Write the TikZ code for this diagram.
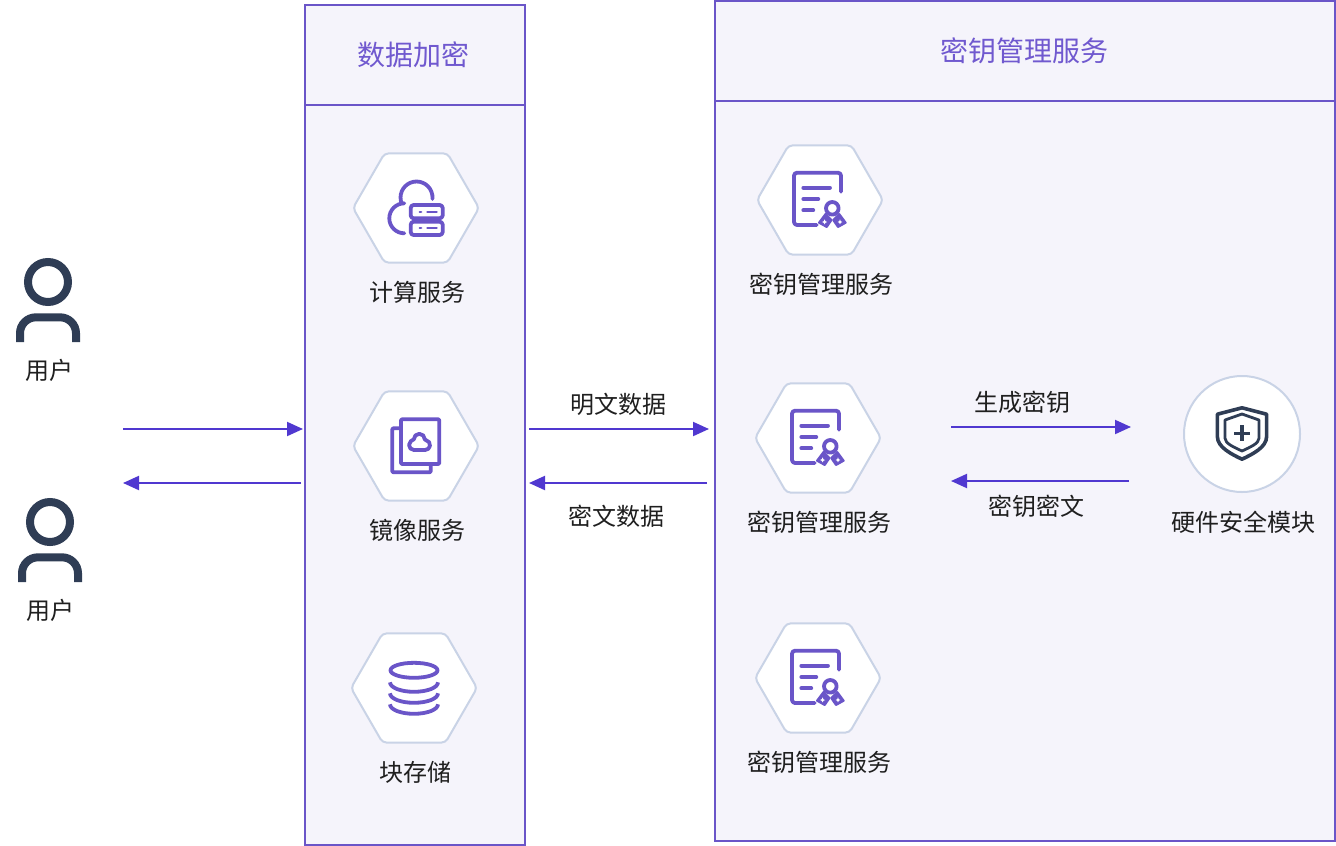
\documentclass[tikz,border=0pt]{standalone}
\usepackage{fontspec}
\setmainfont{Noto Sans CJK SC}
\usetikzlibrary{arrows.meta,shapes.geometric}
\definecolor{violeta}{HTML}{6A55C8}
\definecolor{titulo}{HTML}{7059CF}
\definecolor{fondo}{HTML}{F5F4FB}
\definecolor{borde}{HTML}{C9D3E6}
\definecolor{flecha}{HTML}{5038D0}
\definecolor{oscuro}{HTML}{2F3D55}
\definecolor{texto}{HTML}{1F1F1F}
\tikzset{
  cloudicon/.pic={
    \draw[icon] (-14.3,-4.5) arc[start angle=158,end angle=365,radius=16];
    \draw[icon] (-11.7,-4.7) arc[start angle=270,end angle=90,radius=15];
    \draw[icon,rounded corners=3] (-5.3,-3) rectangle (26.7,10.3);
    \draw[icon,rounded corners=3] (-5.3,13.7) rectangle (26.7,27);
    \draw[icon,line width=2.2] (3.7,3.7) -- (5.2,3.7) (11.3,3.7) -- (20.7,3.7);
    \draw[icon,line width=2.2] (3.7,20.3) -- (5.2,20.3) (11.3,20.3) -- (20.7,20.3);
  },
  imageicon/.pic={
    \draw[icon,rounded corners=1] (-15,-26.7) rectangle (23.3,18);
    \draw[icon,rounded corners=1] (-16.7,-17.7) -- (-23.7,-17.7) -- (-23.7,26.3) -- (14.7,26.3) -- (14.7,19);
    \draw[icon] (-2,4) arc[start angle=90,end angle=230,radius=5] -- (-2.2,-6.7)
      arc[start angle=180,end angle=360,radius=5.5] -- (9.9,-5.9)
      arc[start angle=280,end angle=450,radius=5] -- cycle;
  },
  dbicon/.pic={
    \draw[icon] (0,-17.7) ellipse[x radius=23.5,y radius=7.5];
    \draw[icon,line cap=butt] (-24,-5.7) arc[start angle=180,end angle=0,x radius=24,y radius=9.5];
    \draw[icon,line cap=butt] (-24,5.3) arc[start angle=180,end angle=0,x radius=24,y radius=9.5];
    \draw[icon,line cap=butt] (-24,16.3) arc[start angle=180,end angle=0,x radius=24,y radius=9.5];
  },
  certicon/.pic={
    \draw[icon,rounded corners=3] (-3.3,25) -- (-26,25) -- (-26,-27.3) -- (21,-27.3) -- (21,-8.3);
    \draw[icon] (-16.7,-12.3) -- (10,-12.3) (-16.7,-1) -- (-1.7,-1) (-16.7,10.3) -- (-6.7,10.3);
    \draw[icon] (12.3,8.3) circle[radius=6.3];
    \draw[icon,line width=2,fill=violeta] (5.5,14) -- (-1,22.7) -- (6.7,27) -- (11.5,20) -- cycle;
    \draw[icon,line width=2,fill=violeta] (19.2,14) -- (25.7,22.7) -- (18,27) -- (13.2,20) -- cycle;
    \fill[white] (4.6,19.4) -- (5.4,21.2) -- (7,22) -- (5.4,22.8) -- (4.6,24.4) -- (3.8,22.8) -- (2.2,22) -- (3.8,21.2) -- cycle;
    \fill[white] (20,19.4) -- (20.8,21.2) -- (22.4,22) -- (20.8,22.8) -- (20,24.4) -- (19.2,22.8) -- (17.6,22) -- (19.2,21.2) -- cycle;
  },
  shieldicon/.pic={
    \draw[darkicon,line width=3.6] (0,-26.2) -- (24.6,-19.8) -- (24.6,2.7) .. controls (24.6,13) and (11,20) .. (0,25.2)
      .. controls (-11,20) and (-24.6,13) .. (-24.6,2.7) -- (-24.6,-19.8) -- cycle;
    \draw[darkicon,line width=2.8] (0,-20) -- (17,-14) -- (17,4.3) .. controls (17,9.5) and (7.5,13.5) .. (0,17)
      .. controls (-7.5,13.5) and (-17,9.5) .. (-17,4.3) -- (-17,-14) -- cycle;
    \draw[darkicon,line width=3.6] (-8,-0.7) -- (8,-0.7) (0,-8.7) -- (0,7.3);
  },
  usericon/.pic={
    \draw[oscuro,line width=8] (0,0) circle[radius=20];
    \draw[oscuro,line width=8,rounded corners=16] (-28,60) -- (-28,35.3) -- (28,35.3) -- (28,60);
  }
}
\begin{document}
\begin{tikzpicture}[
    x=1pt, y=-1pt,
    % Estilos para no repetir codigo
    panel/.style={rectangle, draw=violeta, fill=fondo, line width=2pt, minimum width=#1, minimum height=840pt, inner sep=0pt},
    heading/.style={rectangle, draw=violeta, line width=2pt, minimum width=#1, minimum height=100pt, inner sep=0pt, text=titulo, font=\fontsize{28}{32}\selectfont},
    hexa/.style={regular polygon, regular polygon sides=6, draw=borde, fill=white, line width=2pt, rounded corners=4pt, minimum size=126pt, inner sep=0pt},
    round/.style={circle, draw=borde, fill=white, line width=2pt, minimum size=116pt, inner sep=0pt},
    txt/.style={text=texto, inner sep=0pt, font=\fontsize{24}{28}\selectfont},
    flow/.style={draw=flecha, line width=2pt, -{Triangle[length=16pt,width=14pt]}},
    icon/.style={draw=violeta, line width=3.8pt, line cap=round, line join=round},
    darkicon/.style={draw=oscuro, line join=round}
  ]
  \useasboundingbox (0,0) rectangle (1336,846);

  % 1. Paneles y cabeceras
  \node[panel=220pt] (datapanel) at (415,425) {};
  \node[heading=220pt] (datahead) at (415,55) {};
  \node[txt, text=titulo, font=\fontsize{28}{32}\selectfont] (datatitle) at (413.5,55) {数据加密};
  \node[panel=620pt] (kmspanel) at (1025,421) {};
  \node[heading=620pt] (kmshead) at (1025,51) {};
  \node[txt, text=titulo, font=\fontsize{28}{32}\selectfont] (kmstitle) at (1024,51) {密钥管理服务};

  % 2. Usuarios
  \pic at (48,282) {usericon};
  \node[txt] (user1) at (49,370) {用户};
  \pic at (50,522) {usericon};
  \node[txt] (user2) at (51,610) {用户};

  % 3. Servicios de datos
  \node[hexa] (compute) at (416,208) {};
  \pic at (416,208) {cloudicon};
  \node[txt] (computetxt) at (417,292) {计算服务};
  \node[hexa] (image) at (416,446) {};
  \pic at (416,446) {imageicon};
  \node[txt] (imagetxt) at (417,530) {镜像服务};
  \node[hexa] (block) at (414,688) {};
  \pic at (414,688) {dbicon};
  \node[txt] (blocktxt) at (415,772) {块存储};

  % 4. Servicios de claves
  \node[hexa] (kms1) at (820,200) {};
  \pic at (820,200) {certicon};
  \node[txt] (kms1txt) at (821,284) {密钥管理服务};
  \node[hexa] (kms2) at (818,438) {};
  \pic at (818,438) {certicon};
  \node[txt] (kms2txt) at (819,522) {密钥管理服务};
  \node[hexa] (kms3) at (818,678) {};
  \pic at (818,678) {certicon};
  \node[txt] (kms3txt) at (819,762) {密钥管理服务};
  \node[round] (hsm) at (1242,434) {};
  \pic at (1242,434) {shieldicon};
  \node[txt] (hsmtxt) at (1243,522) {硬件安全模块};

  % 5. Extremos de las flechas
  \coordinate (userout) at (123,429);
  \coordinate (datain) at (303,429);
  \coordinate (dataout) at (301,483);
  \coordinate (userin) at (123,483);
  \coordinate (plainfrom) at (529,429);
  \coordinate (plainto) at (709,429);
  \coordinate (cipherfrom) at (707,483);
  \coordinate (cipherto) at (529,483);
  \coordinate (genfrom) at (951,427);
  \coordinate (gento) at (1131,427);
  \coordinate (keyfrom) at (1129,481);
  \coordinate (keyto) at (951,481);

  % 6. Flechas y sus textos
  \draw[flow] (userout) -- (datain);
  \draw[flow] (dataout) -- (userin);
  \draw[flow] (plainfrom) -- (plainto);
  \draw[flow] (cipherfrom) -- (cipherto);
  \draw[flow] (genfrom) -- (gento);
  \draw[flow] (keyfrom) -- (keyto);

  \node[txt] (plaintxt) at (618,404) {明文数据};
  \node[txt] (ciphertxt) at (616,516) {密文数据};
  \node[txt] (gentxt) at (1022,402) {生成密钥};
  \node[txt] (keytxt) at (1036,506) {密钥密文};

\end{tikzpicture}
\end{document}
